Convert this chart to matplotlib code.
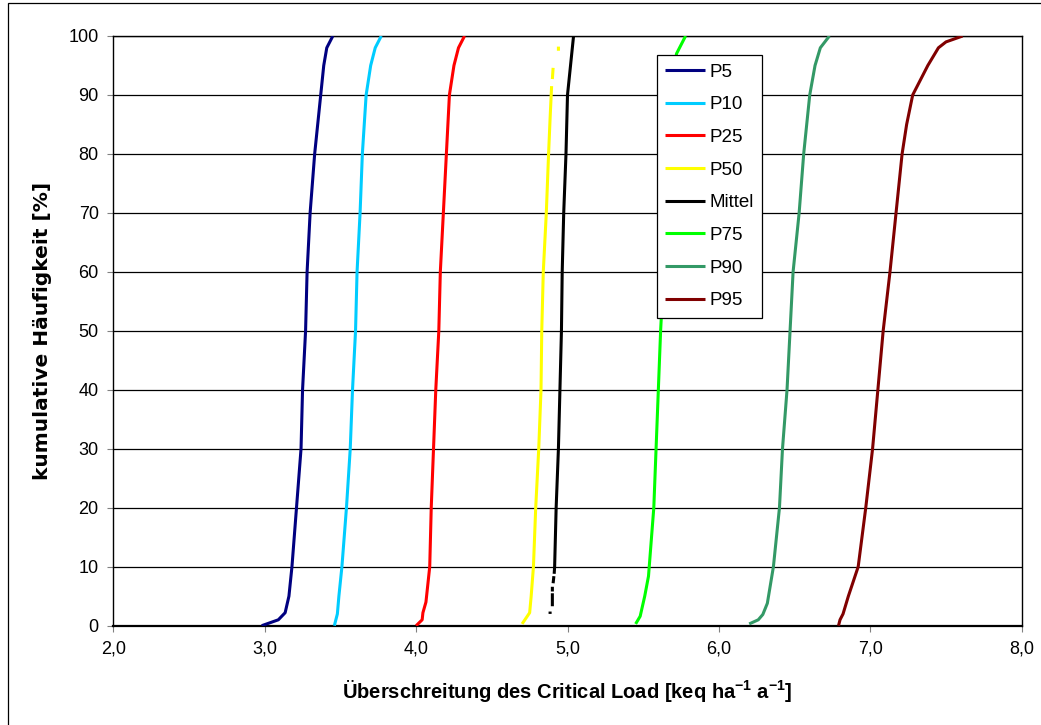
import numpy as np
import matplotlib
matplotlib.use("Agg")
import matplotlib.pyplot as plt
from matplotlib.patches import Rectangle

plt.rcParams['font.family'] = ['Liberation Sans', 'DejaVu Sans']
plt.rcParams['mathtext.fontset'] = 'custom'
plt.rcParams['mathtext.rm'] = 'Liberation Sans:bold'
plt.rcParams['mathtext.default'] = 'rm'

nan = np.nan

# ---- data: cumulative frequency [%] vs. exceedance [keq/ha/a] ----
p5_y = [0, 1, 2.2, 5, 10, 20, 30, 40, 50, 60, 70, 80, 90, 95, 98, 100]
p5_x = [2.98, 3.09, 3.135, 3.16, 3.18, 3.21, 3.24, 3.25, 3.27, 3.28, 3.30, 3.33, 3.37, 3.39, 3.41, 3.45]

p10_y = [0, 1, 2, 5, 10, 20, 30, 40, 50, 60, 70, 80, 90, 95, 98, 100]
p10_x = [3.46, 3.47, 3.48, 3.49, 3.51, 3.54, 3.565, 3.58, 3.60, 3.61, 3.63, 3.645, 3.67, 3.70, 3.73, 3.77]

p25_y = [0, 1, 2.2, 4, 10, 20, 30, 40, 50, 60, 70, 80, 90, 95, 98, 100]
p25_x = [4.00, 4.04, 4.045, 4.065, 4.09, 4.10, 4.115, 4.13, 4.15, 4.16, 4.18, 4.20, 4.22, 4.25, 4.28, 4.32]

p50_y = [0.3, 2.2, 5, 10, 20, 30, 40, 50, 60, 70, 80, 86, 91.5, nan, 92.7, 94.6, nan, 97.5, 98.2]
p50_x = [4.70, 4.75, 4.76, 4.775, 4.79, 4.81, 4.825, 4.83, 4.84, 4.86, 4.875, 4.885, 4.895, nan, 4.90, 4.905, nan, 4.94, 4.94]

mittel_y = [2.0, 2.4, nan, 3.3, 5.5, nan, 5.8, 6.6, nan, 7.2, 8.4, nan, 8.8, 10, 20, 30, 40, 50, 60, 70, 80, 90, 95, 100]
mittel_x = [4.885, 4.885, nan, 4.90, 4.90, nan, 4.90, 4.90, nan, 4.905, 4.91, nan, 4.912, 4.915, 4.925, 4.94, 4.95, 4.96, 4.965, 4.975, 4.99, 5.00, 5.02, 5.04]

p75_y = [0.3, 1.6, 5, 8.4, 20, 30, 40, 50, 60, 70, 80, 90, 95, 97, 100]
p75_x = [5.45, 5.48, 5.51, 5.535, 5.57, 5.585, 5.60, 5.615, 5.635, 5.655, 5.675, 5.695, 5.71, 5.72, 5.78]

p90_y = [0.3, 1, 1.9, 3.8, 10, 20, 30, 40, 50, 60, 70, 80, 90, 95, 98, 100]
p90_x = [6.20, 6.26, 6.29, 6.32, 6.36, 6.40, 6.42, 6.45, 6.47, 6.49, 6.53, 6.56, 6.60, 6.635, 6.67, 6.73]

p95_y = [0, 1, 2, 5, 10, 20, 30, 40, 50, 60, 70, 80, 85, 90, 95, 98, 99, 100]
p95_x = [6.79, 6.80, 6.82, 6.855, 6.92, 6.97, 7.015, 7.05, 7.085, 7.13, 7.17, 7.21, 7.24, 7.28, 7.38, 7.45, 7.50, 7.61]

series_names = ['P5', 'P10', 'P25', 'P50', 'Mittel', 'P75', 'P90', 'P95']
series_colors = ['#000080', '#00CCFF', '#FF0000', '#FFFF00', '#000000', '#00FF00', '#339966', '#800000']

x_ticks = [2.0, 3.0, 4.0, 5.0, 6.0, 7.0, 8.0]
x_ticklabels = ['2,0', '3,0', '4,0', '5,0', '6,0', '7,0', '8,0']
y_ticks = [0, 10, 20, 30, 40, 50, 60, 70, 80, 90, 100]

xs = [p5_x, p10_x, p25_x, p50_x, mittel_x, p75_x, p90_x, p95_x]
ys = [p5_y, p10_y, p25_y, p50_y, mittel_y, p75_y, p90_y, p95_y]

fig = plt.figure(figsize=(10.41, 7.25), dpi=100)
ax = fig.add_axes([113.3 / 1041, 1 - 625.7 / 725, (1021.7 - 113.3) / 1041, (625.7 - 36) / 725])

for name, col, x, y in zip(series_names, series_colors, xs, ys):
    ax.plot(x, y, color=col, lw=2.2, label=name, solid_capstyle='butt', zorder=3)

ax.set_xlim(2.0, 8.0)
ax.set_ylim(0, 100)
ax.set_xticks(x_ticks)
ax.set_xticklabels(x_ticklabels)
ax.set_yticks(y_ticks)
ax.tick_params(axis='both', direction='out', length=4.5, width=0.8, color='#808080',
               labelsize=13, pad=6)
ax.yaxis.grid(True, color='black', lw=0.9, zorder=1)
ax.set_axisbelow(True)
for s in ax.spines.values():
    s.set_color('black')
    s.set_linewidth(1.0)
ax.spines['bottom'].set_linewidth(1.6)

ax.set_xlabel('Überschreitung des Critical Load [keq ha$^{-1}$ a$^{-1}$]',
              fontsize=14.5, fontweight='bold')
ax.set_ylabel('kumulative Häufigkeit [%]', fontsize=14.5, fontweight='bold',
              family=['DejaVu Sans'])
ax.xaxis.set_label_coords(0.5, -0.088)
ax.yaxis.set_label_coords(-0.0675, 0.5)

leg = ax.legend(loc='upper left', bbox_to_anchor=(656.7 / 1041, 1 - 55 / 725),
                bbox_transform=fig.transFigure, frameon=True, fancybox=False,
                shadow=False, fontsize=13.5, handlelength=2.1, handletextpad=0.27,
                labelspacing=0.83, borderpad=0.45, borderaxespad=0)
leg.get_frame().set_edgecolor('black')
leg.get_frame().set_linewidth(0.9)
leg.get_frame().set_alpha(1)
for ln in leg.get_lines():
    ln.set_linewidth(2.2)

fig.patches.append(Rectangle((8 / 1041, -0.05), 1.2, 1 - 3 / 725 + 0.05,
                             transform=fig.transFigure, fill=False,
                             edgecolor='black', lw=0.9))

fig.savefig('out.png', dpi=100)
